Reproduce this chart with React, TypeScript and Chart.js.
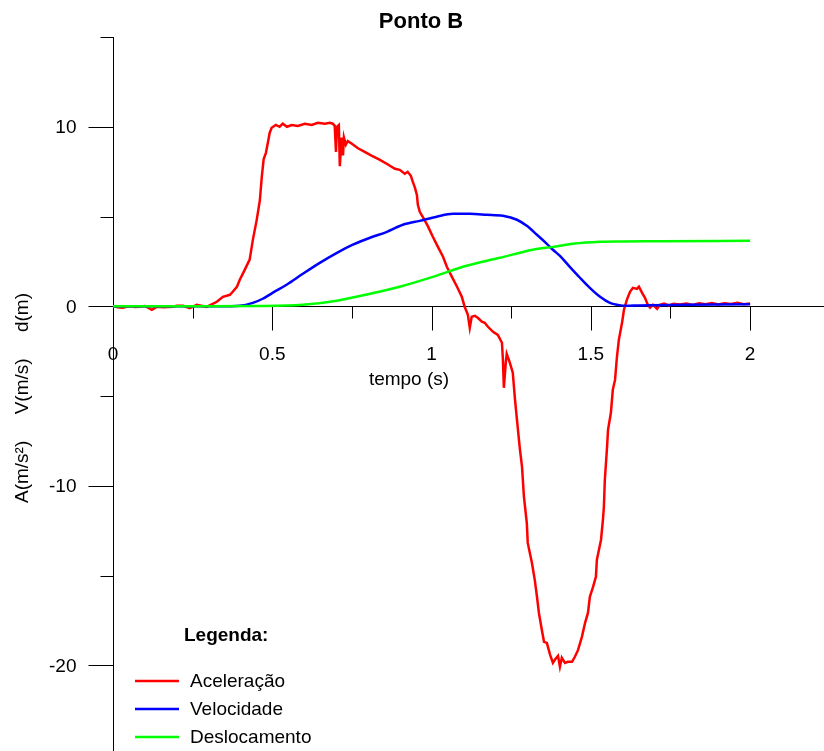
import { useEffect, useRef } from "react";
import { Chart, registerables } from "chart.js";

Chart.register(...registerables);

// ---------- data ----------
const title = "Ponto B";
const xAxisTitle = "tempo (s)";
const yAxisTitle = "A(m/s²)     V(m/s)     d(m)";
const legendTitle = "Legenda:";
const seriesNames = ["Aceleração", "Velocidade", "Deslocamento"];
const seriesColors = ["#ff0000", "#0000ff", "#00ff00"];

const xMin = 0;
const xMax = 2.232;
const yMin = -24.77;
const yMax = 15;

const xMajorTicks = [0, 0.5, 1, 1.5, 2];
const xTickLabels = ["0", "0.5", "1", "1.5", "2"];
const xMinorTicks = [0.25, 0.75, 1.25, 1.75];
const yMajorTicks = [10, 0, -10, -20];
const yTickLabels = ["10", "0", "-10", "-20"];
const yMinorTicks = [15, 5, -5, -15];

// Aceleração (m/s²)
const accelT = [
  0, 0.015, 0.03, 0.05, 0.07, 0.084, 0.1, 0.122, 0.137, 0.16, 0.187, 0.2, 0.22, 0.241, 0.263, 0.28, 0.294,
  0.313, 0.326, 0.345, 0.367, 0.376, 0.389, 0.398, 0.41, 0.429, 0.439, 0.451, 0.461, 0.467, 0.473, 0.48,
  0.486, 0.492, 0.498, 0.511, 0.523, 0.533, 0.546, 0.561, 0.58, 0.602, 0.624, 0.643, 0.665, 0.681, 0.69,
  0.696, 0.7, 0.703, 0.709, 0.712, 0.718, 0.722, 0.725, 0.731, 0.737, 0.75, 0.769, 0.79, 0.813, 0.838,
  0.863, 0.885, 0.9, 0.916, 0.925, 0.935, 0.941, 0.948, 0.954, 0.957, 0.963, 0.976, 0.988, 1.004, 1.02,
  1.036, 1.048, 1.064, 1.08, 1.095, 1.104, 1.114, 1.12, 1.126, 1.136, 1.145, 1.158, 1.167, 1.177, 1.193,
  1.208, 1.221, 1.224, 1.227, 1.233, 1.236, 1.246, 1.255, 1.262, 1.268, 1.277, 1.284, 1.29, 1.299, 1.302,
  1.315, 1.324, 1.331, 1.337, 1.346, 1.353, 1.362, 1.372, 1.381, 1.387, 1.397, 1.403, 1.409, 1.419,
  1.428, 1.441, 1.45, 1.46, 1.472, 1.482, 1.491, 1.497, 1.507, 1.516, 1.519, 1.532, 1.538, 1.541, 1.544,
  1.551, 1.554, 1.563, 1.569, 1.576, 1.582, 1.588, 1.598, 1.604, 1.613, 1.623, 1.632, 1.645, 1.651,
  1.661, 1.67, 1.679, 1.686, 1.695, 1.708, 1.717, 1.73, 1.745, 1.76, 1.78, 1.8, 1.82, 1.84, 1.86, 1.88,
  1.9, 1.92, 1.94, 1.96, 1.98, 2.0,
];
const accelV = [
  0.02, -0.05, -0.08, 0.0, -0.04, -0.03, 0.02, -0.2, -0.03, -0.05, -0.03, 0.03, 0.03, -0.1, 0.08, 0.02, -0.03,
  0.14, 0.25, 0.53, 0.64, 0.81, 1.09, 1.48, 1.9, 2.6, 3.7, 4.8, 5.9, 7.2, 8.2, 8.55,
  9.1, 9.67, 9.94, 10.1, 10.0, 10.17, 10.0, 10.1, 10.05, 10.17, 10.1, 10.22, 10.17, 10.22, 10.17,
  10.05, 8.6, 10.0, 10.1, 7.8, 9.4, 8.4, 9.4, 9.0, 9.2, 9.05, 8.8, 8.6, 8.38, 8.16,
  7.9, 7.66, 7.6, 7.38, 7.49, 7.27, 6.94, 6.6, 6.2, 5.65, 5.26, 4.87, 4.48, 3.87, 3.31,
  2.76, 2.2, 1.64, 1.09, 0.53, -0.03, -0.47, -1.2, -0.58, -0.53, -0.64, -0.86, -0.92, -1.14, -1.42,
  -1.59, -2.03, -2.98, -4.54, -3.15, -2.65, -3.15, -3.7, -5.2, -6.3, -7.9, -8.94, -10.6, -12.06, -13.18,
  -14.29, -15.24, -16.18, -17.08, -18.0, -18.69, -18.75, -19.4, -19.86, -19.69, -19.47, -20.08, -19.58, -19.86,
  -19.8, -19.8, -19.52, -19.14, -18.41, -17.63, -17.08, -16.18, -15.63, -15.07, -14.12, -13.0, -11.89, -11.17, -9.66,
  -7.83, -6.88, -5.93, -4.65, -4.1, -2.81, -1.87, -0.92, -0.19, 0.36, 0.81, 1.03, 0.97, 1.09,
  0.75, 0.47, 0.08, -0.08, 0.08, -0.14, 0.08, 0.15, 0.05, 0.14, 0.1, 0.16, 0.08, 0.17, 0.12, 0.18,
  0.1, 0.17, 0.13, 0.2, 0.12, 0.15,
];

// Velocidade (m/s)
const velT = [
  0, 0.2, 0.336, 0.398, 0.439, 0.47, 0.501, 0.545, 0.596, 0.649, 0.703, 0.753, 0.807, 0.86, 0.91, 0.963,
  1.016, 1.067, 1.12, 1.173, 1.224, 1.268, 1.299, 1.33, 1.362, 1.381, 1.403, 1.434, 1.466, 1.497, 1.529,
  1.56, 1.585, 1.613, 1.65, 1.8, 2.0,
];
const velV = [
  0, 0, 0, 0.03, 0.19, 0.42, 0.75, 1.2, 1.81, 2.42, 2.98, 3.43, 3.82, 4.15, 4.54, 4.76,
  4.99, 5.15, 5.15, 5.1, 5.04, 4.82, 4.48, 4.0, 3.48, 3.15, 2.81, 2.2, 1.59, 1.03, 0.53,
  0.19, 0.08, 0.03, 0.05, 0.08, 0.12,
];

// Deslocamento (m)
const dispT = [
  0, 0.3, 0.45, 0.596, 0.703, 0.807, 0.9, 1.004, 1.11, 1.214, 1.318, 1.381, 1.444, 1.529, 1.6, 1.717, 2.0,
];
const dispV = [
  0, 0, 0.01, 0.08, 0.31, 0.7, 1.09, 1.64, 2.26, 2.7, 3.15, 3.31, 3.48, 3.59, 3.61, 3.62, 3.65,
];

const FONT = "'Liberation Sans', Arial, sans-serif";

const axesPlugin = {
  id: "customAxes",
  beforeDatasetsDraw(chart: any) {
    const { ctx } = chart;
    const xs = chart.scales.x;
    const ys = chart.scales.y;
    const x0 = Math.round(xs.getPixelForValue(0)) + 0.5;
    const y0 = Math.round(ys.getPixelForValue(0)) + 0.5;
    ctx.save();
    ctx.strokeStyle = "#000";
    ctx.lineWidth = 1;
    ctx.beginPath();
    // y axis
    ctx.moveTo(x0, ys.getPixelForValue(yMax));
    ctx.lineTo(x0, chart.height);
    // x axis
    ctx.moveTo(x0, y0);
    ctx.lineTo(chart.width, y0);
    // y ticks
    yMajorTicks.forEach((v) => {
      const y = Math.round(ys.getPixelForValue(v)) + 0.5;
      ctx.moveTo(x0 - 25, y);
      ctx.lineTo(x0, y);
    });
    yMinorTicks.forEach((v) => {
      const y = Math.round(ys.getPixelForValue(v)) + 0.5;
      ctx.moveTo(x0 - 13, y);
      ctx.lineTo(x0, y);
    });
    // x ticks
    xMajorTicks.forEach((v) => {
      const x = Math.round(xs.getPixelForValue(v)) + 0.5;
      ctx.moveTo(x, y0);
      ctx.lineTo(x, y0 + 24);
    });
    xMinorTicks.forEach((v) => {
      const x = Math.round(xs.getPixelForValue(v)) + 0.5;
      ctx.moveTo(x, y0);
      ctx.lineTo(x, y0 + 12);
    });
    ctx.stroke();

    ctx.fillStyle = "#000";
    ctx.font = `19px ${FONT}`;
    ctx.textBaseline = "middle";
    ctx.textAlign = "right";
    yMajorTicks.forEach((v, i) => {
      ctx.fillText(yTickLabels[i], x0 - 37, ys.getPixelForValue(v) + 1);
    });
    ctx.textAlign = "center";
    xMajorTicks.forEach((v, i) => {
      ctx.fillText(xTickLabels[i], xs.getPixelForValue(v), y0 + 48);
    });
    ctx.fillText(xAxisTitle, 409, y0 + 73);

    // y axis title
    ctx.save();
    ctx.translate(23, 398);
    ctx.rotate(-Math.PI / 2);
    ctx.fillText(yAxisTitle, 0, 0);
    ctx.restore();

    // title
    ctx.font = `bold 22px ${FONT}`;
    ctx.fillText(title, 421, 22);
    ctx.restore();
  },
  afterDraw(chart: any) {
    const { ctx } = chart;
    ctx.save();
    ctx.fillStyle = "#000";
    ctx.textBaseline = "middle";
    ctx.textAlign = "left";
    ctx.font = `bold 19px ${FONT}`;
    ctx.fillText(legendTitle, 184, 636);
    ctx.font = `19px ${FONT}`;
    chart.data.datasets.forEach((ds: any, i: number) => {
      const y = 681 + i * 28;
      ctx.strokeStyle = ds.borderColor;
      ctx.lineWidth = 2.5;
      ctx.beginPath();
      ctx.moveTo(135, y);
      ctx.lineTo(179, y);
      ctx.stroke();
      ctx.fillText(ds.label, 190, y + 1);
    });
    ctx.restore();
  },
};

export default function App() {
  const ref = useRef<HTMLCanvasElement>(null);
  useEffect(() => {
    const toPts = (ts: number[], vs: number[]) => ts.map((t, i) => ({ x: t, y: vs[i] }));
    const chart = new Chart(ref.current!, {
      type: "line",
      data: {
        datasets: [
          {
            label: seriesNames[0],
            data: toPts(accelT, accelV),
            borderColor: seriesColors[0],
            borderWidth: 2.5,
            pointRadius: 0,
            tension: 0,
            order: 3,
          },
          {
            label: seriesNames[1],
            data: toPts(velT, velV),
            borderColor: seriesColors[1],
            borderWidth: 2.5,
            pointRadius: 0,
            cubicInterpolationMode: "monotone",
            order: 2,
          },
          {
            label: seriesNames[2],
            data: toPts(dispT, dispV),
            borderColor: seriesColors[2],
            borderWidth: 2.5,
            pointRadius: 0,
            cubicInterpolationMode: "monotone",
            order: 1,
          },
        ],
      },
      options: {
        responsive: false,
        animation: false,
        devicePixelRatio: 1,
        layout: { padding: { left: 113, top: 37, right: 0, bottom: 0 } },
        scales: {
          x: { type: "linear", min: xMin, max: xMax, display: false },
          y: { type: "linear", min: yMin, max: yMax, display: false },
        },
        plugins: {
          legend: { display: false },
          title: { display: false },
          tooltip: { enabled: false },
        },
      },
      plugins: [axesPlugin],
    } as any);
    return () => chart.destroy();
  }, []);
  return (
    <div style={{ position: "fixed", left: 0, top: 0, width: 824, height: 751, background: "#fff" }}>
      <canvas ref={ref} width={824} height={751} style={{ display: "block" }} />
    </div>
  );
}
